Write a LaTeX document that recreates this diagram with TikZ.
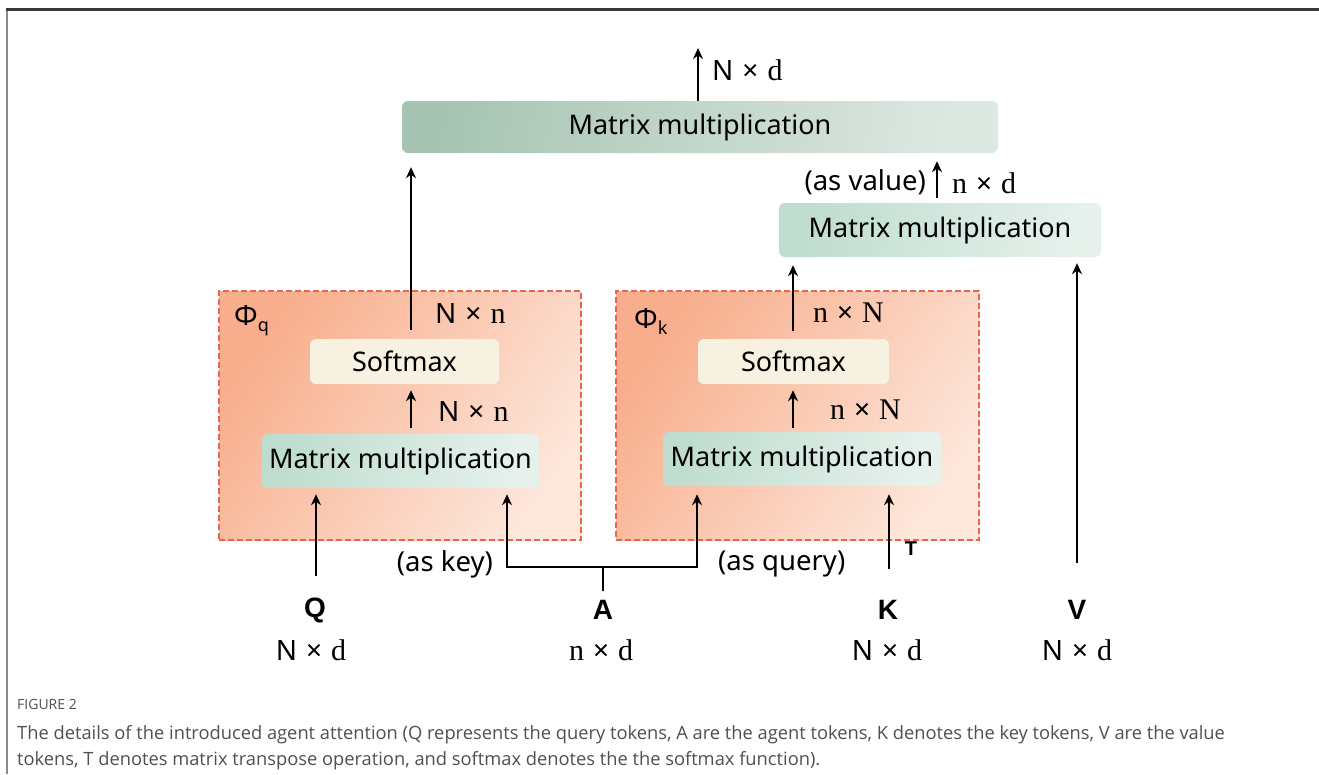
\documentclass[tikz,border=0pt]{standalone}
\usepackage{fontspec}
\setmainfont{Noto Sans}
\newfontfamily\capfont{Open Sans}
\newfontfamily\dimserif{Liberation Serif}
\newfontfamily\tokfont{Liberation Sans}
\usetikzlibrary{arrows.meta}

\definecolor{frametop}{HTML}{3A3A3A}
\definecolor{frameleft}{HTML}{8A8A8A}
\definecolor{mmdarkA}{HTML}{A6C4B3}
\definecolor{mmlightA}{HTML}{DEE8E2}
\definecolor{mmdarkB}{HTML}{BFDDCF}
\definecolor{mmlightB}{HTML}{E6F1EC}
\definecolor{phidark}{HTML}{F8AE8C}
\definecolor{philight}{HTML}{FDE6DA}
\definecolor{phiedge}{HTML}{E8664C}
\definecolor{softfill}{HTML}{F6F1E0}
\definecolor{captext}{HTML}{505050}

% dimension text: sans capital N, serif lower-case letters
\newcommand{\dimsep}{\hspace{9pt}×\hspace{9pt}}
\newcommand{\serl}[1]{{\dimserif\fontsize{30}{30}\selectfont #1}}

\tikzset{
  mmtop/.style={rectangle, rounded corners=6pt, inner sep=0pt,
    left color=mmdarkA, right color=mmlightA, shading angle=80,
    font=\fontsize{27}{30}\selectfont},
  mmbox/.style={rectangle, rounded corners=6pt, inner sep=0pt,
    left color=mmdarkB, right color=mmlightB, shading angle=75,
    font=\fontsize{27}{30}\selectfont},
  phibox/.style={rectangle, inner sep=0pt, draw=phiedge, dashed,
    dash pattern=on 6pt off 3pt, line width=1.4pt,
    left color=phidark, right color=philight, shading angle=55},
  softbox/.style={rectangle, rounded corners=6pt, inner sep=0pt,
    fill=softfill, font=\fontsize{27}{30}\selectfont},
  dimlab/.style={inner sep=0pt, anchor=west, font=\fontsize{28}{30}\selectfont},
  plainlab/.style={inner sep=0pt, font=\fontsize{28}{30}\selectfont},
  noteslab/.style={inner sep=0pt, font=\fontsize{27.5}{30}\selectfont},
  toklab/.style={inner sep=0pt, font=\tokfont\fontsize{28}{30}\selectfont\bfseries},
  philab/.style={inner sep=0pt, anchor=west, font=\fontsize{28}{30}\selectfont},
  arr/.style={line width=2.2pt, -{Stealth[length=11pt,width=10pt]}},
  wire/.style={line width=2.2pt},
}

\begin{document}
\begin{tikzpicture}[x=1pt, y=-1pt]
\useasboundingbox (0,0) rectangle (1319,774);
\fill[white] (0,0) rectangle (1319,774);

% page frame
\draw[line width=2pt, frameleft] (7,9) -- (7,774);
\draw[line width=2.4pt, frametop] (6,9.5) -- (1319,9.5);

% dashed function blocks
\node[phibox, minimum width=362pt, minimum height=249pt] (phiq) at (400,415.5) {};
\node[phibox, minimum width=363pt, minimum height=249pt] (phik) at (797.5,415.5) {};
\node[philab] (phiqlab) at (234,321) {Φ\raisebox{-6pt}{\fontsize{18}{18}\selectfont q}};
\node[philab] (phiklab) at (634,321) {Φ\raisebox{-6pt}{\fontsize{18}{18}\selectfont k}};

% blocks
\node[mmtop, minimum width=596pt, minimum height=52pt] (mmout) at (700,127) {Matrix multiplication};
\node[mmbox, minimum width=322pt, minimum height=54pt] (mmv) at (940,230) {Matrix multiplication};
\node[softbox, minimum width=189pt, minimum height=45pt] (smq) at (404.5,361.5) {Softmax};
\node[softbox, minimum width=191pt, minimum height=45pt] (smk) at (793.5,361.5) {Softmax};
\node[mmbox, minimum width=277pt, minimum height=54pt] (mmq) at (400.5,461) {Matrix multiplication};
\node[mmbox, minimum width=278pt, minimum height=54pt] (mmk) at (802,459) {Matrix multiplication};

% input tokens
\node[toklab] (Q) at (315,610) {Q};
\node[toklab] (A) at (603,610) {A};
\node[toklab] (K) at (888,610) {K};
\node[toklab] (V) at (1077,610) {V};
\node[plainlab] (Qd) at (311,650) {N\dimsep\serl{d}};
\node[plainlab] (Ad) at (601,650) {\serl{n}\dimsep\serl{d}};
\node[plainlab] (Kd) at (887,650) {N\dimsep\serl{d}};
\node[plainlab] (Vd) at (1077,650) {N\dimsep\serl{d}};

% connector end points
\coordinate (outtip) at (698,48);
\coordinate (qsrc) at (316,576);
\coordinate (ksrc) at (889,569);
\coordinate (vsrc) at (1077,563);
\coordinate (abase) at (603,591);
\coordinate (ajoin) at (603,567);
\coordinate (akey) at (507,567);
\coordinate (aquery) at (697,567);
\coordinate (smqtop) at (411,330);
\coordinate (smktop) at (793,331);
\coordinate (mmqtop) at (411,428);
\coordinate (mmktop) at (793,428);
\coordinate (mmvtop) at (937,198);

% connectors
\draw[arr] (mmout.north -| outtip) -- (outtip);
\draw[arr] (mmvtop) -- ([yshift=-8pt]mmout.south -| mmvtop);
\draw[arr] (smqtop) -- ([yshift=-14pt]mmout.south -| smqtop);
\draw[arr] (smktop) -- ([yshift=-8pt]mmv.south -| smktop);
\draw[arr] (mmqtop) -- ([yshift=-6pt]smq.south -| mmqtop);
\draw[arr] (mmktop) -- ([yshift=-6pt]smk.south -| mmktop);
\draw[arr] (qsrc) -- ([yshift=-6pt]mmq.south -| qsrc);
\draw[arr] (ksrc) -- ([yshift=-8pt]mmk.south -| ksrc);
\draw[arr] (vsrc) -- ([yshift=-6pt]mmv.south -| vsrc);
\draw[wire] (abase) -- (ajoin);
\draw[arr] (aquery) -| ([yshift=-6pt]mmq.south -| akey);
\draw[arr] (akey) -| ([yshift=-8pt]mmk.south -| aquery);

% dimension labels
\node[dimlab] (dout) at (712,70) {N\dimsep\serl{d}};
\node[noteslab, anchor=east] (asval) at (926,182) {(as value)};
\node[dimlab] (dval) at (952,183) {\serl{n}\dimsep\serl{d}};
\node[dimlab] (dq1) at (435,313) {N\dimsep\serl{n}};
\node[dimlab] (dq2) at (438,411) {N\dimsep\serl{n}};
\node[dimlab] (dk1) at (813,313) {\serl{n}\dimsep\serl{N}};
\node[dimlab] (dk2) at (830,410) {\serl{n}\dimsep\serl{N}};
\node[inner sep=0pt, font=\tokfont\fontsize{20}{20}\selectfont\bfseries] (tlab) at (911,549) {T};
\node[noteslab, anchor=east] (askey) at (493,564) {(as key)};
\node[noteslab, anchor=west] (asquery) at (718,564) {(as query)};

% caption
\node[inner sep=0pt, anchor=base west, text=captext, font=\capfont\fontsize{14}{16}\selectfont] (figno) at (17,709) {FIGURE 2};
\node[inner sep=0pt, anchor=base west, align=left, text=captext,
  font=\capfont\fontsize{18.3}{26}\selectfont] (cap) at (17,765)
  {The details of the introduced agent attention (Q represents the query tokens, A are the agent tokens, K denotes the key tokens, V are the value\\
   tokens, T denotes matrix transpose operation, and softmax denotes the the softmax function).};
\end{tikzpicture}
\end{document}
